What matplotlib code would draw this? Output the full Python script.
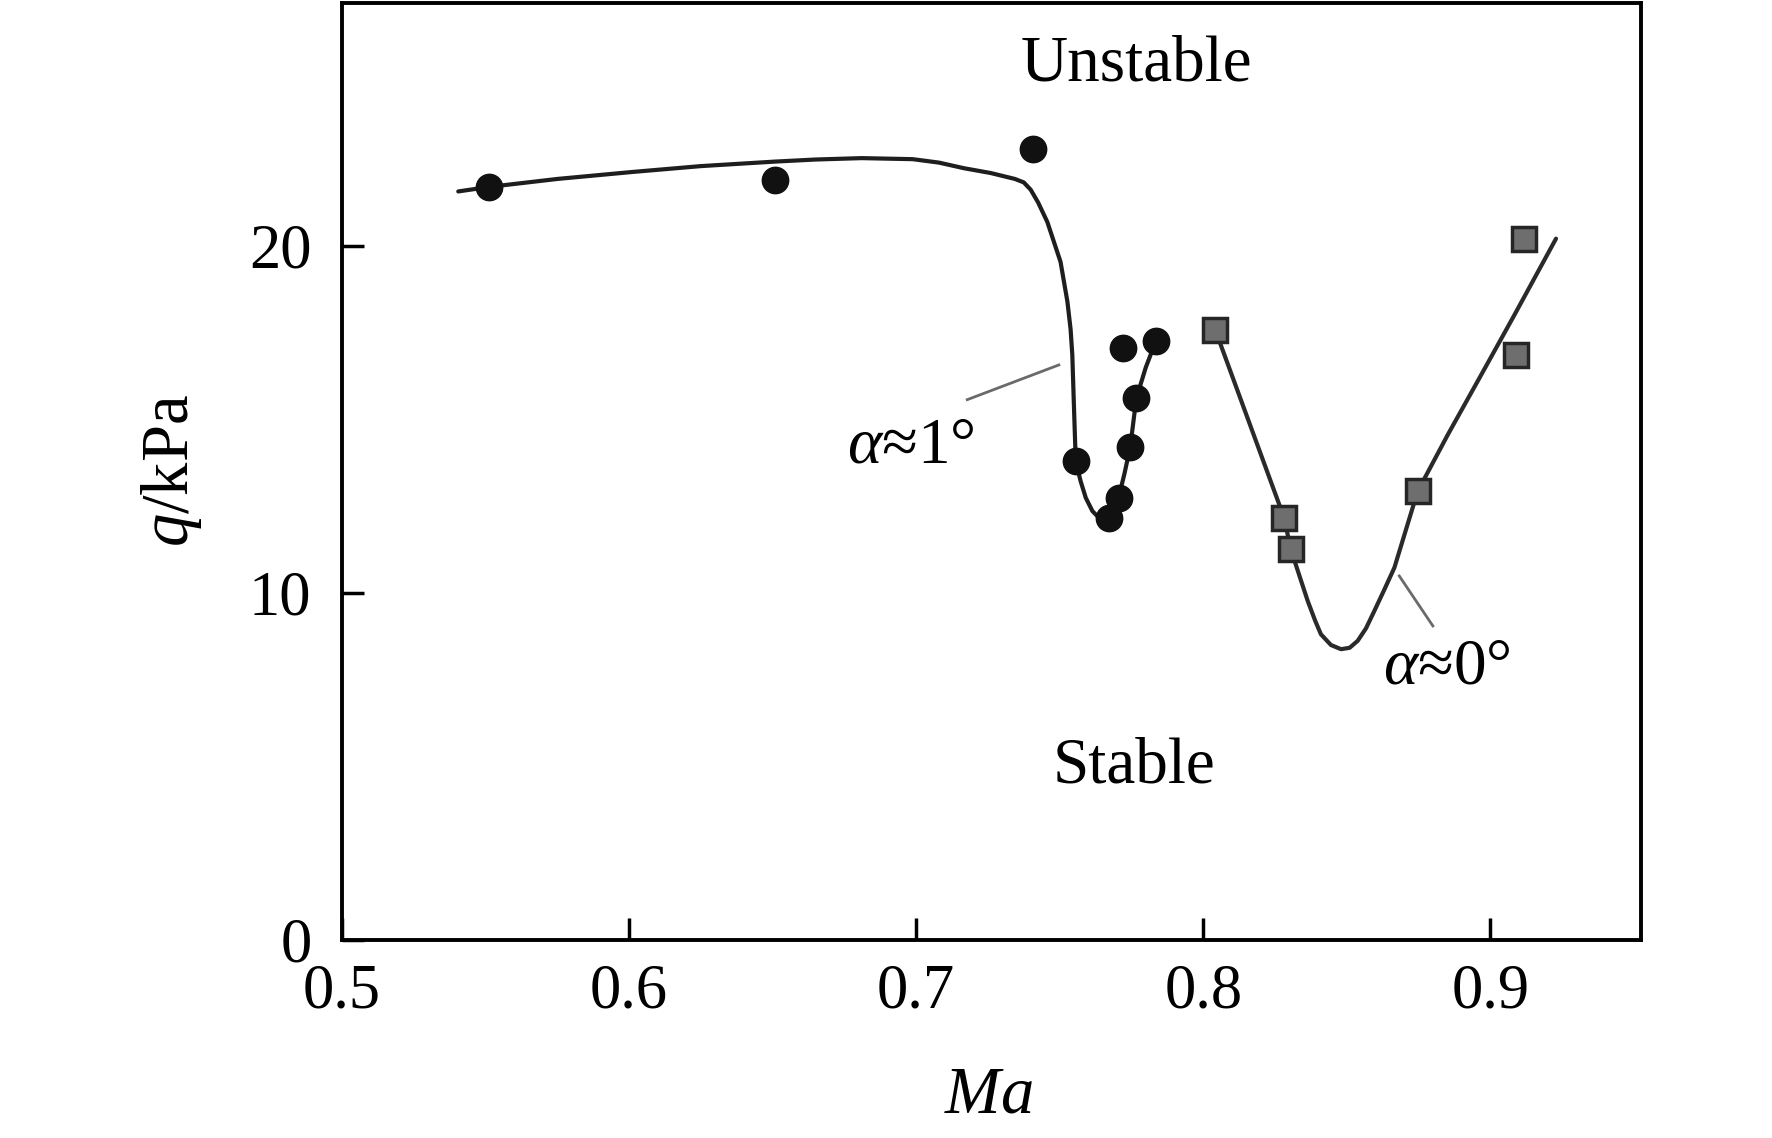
import matplotlib
matplotlib.use("Agg")
import matplotlib.pyplot as plt

plt.rcParams['font.family'] = ['Liberation Serif', 'DejaVu Serif']
plt.rcParams['mathtext.fontset'] = 'custom'
plt.rcParams['mathtext.rm'] = 'Liberation Serif'
plt.rcParams['mathtext.it'] = 'Liberation Serif:italic'

# measured points, alpha ~ 1 deg (circles)
ma_a1 = [0.5512, 0.6508, 0.7406, 0.7556, 0.7672, 0.7705, 0.7719, 0.7746, 0.7767, 0.7835]
q_a1 = [21.70, 21.89, 22.80, 13.79, 12.16, 12.74, 17.05, 14.22, 15.61, 17.26]

# measured points, alpha ~ 0 deg (squares)
ma_a0 = [0.8042, 0.8282, 0.8305, 0.8747, 0.9090, 0.9119]
q_a0 = [17.58, 12.16, 11.26, 12.93, 16.86, 20.21]

# boundary curve alpha ~ 1 deg
curve1_ma = [0.5405, 0.5512, 0.5750, 0.6010, 0.6250, 0.6508, 0.6650, 0.6810, 0.6988,
             0.7080, 0.7166, 0.7260, 0.7344, 0.7375, 0.7399, 0.7425, 0.7457, 0.7503,
             0.7527, 0.7538, 0.7544, 0.7550, 0.7556, 0.7573, 0.7591, 0.7614, 0.7643,
             0.7672, 0.7690, 0.7705, 0.7726, 0.7746, 0.7767, 0.7800, 0.7835]
curve1_q = [21.57, 21.70, 21.93, 22.13, 22.30, 22.43, 22.49, 22.53, 22.50,
            22.40, 22.24, 22.10, 21.93, 21.83, 21.62, 21.25, 20.69, 19.54,
            18.39, 17.60, 16.86, 15.30, 13.79, 13.22, 12.74, 12.36, 12.11,
            12.02, 12.36, 12.74, 13.45, 14.22, 15.61, 16.50, 17.26]

# boundary curve alpha ~ 0 deg
curve0_ma = [0.8042, 0.8282, 0.8305, 0.8335, 0.8364, 0.8390, 0.8410, 0.8445, 0.8480,
             0.8510, 0.8538, 0.8567, 0.8596, 0.8630, 0.8666, 0.8747, 0.8852, 0.8968,
             0.9084, 0.9229]
curve0_q = [17.58, 12.16, 11.26, 10.50, 9.77, 9.20, 8.81, 8.50, 8.38,
            8.42, 8.62, 8.98, 9.48, 10.08, 10.73, 12.93, 14.56, 16.28,
            18.01, 20.21]

xticks = [0.5, 0.6, 0.7, 0.8, 0.9]
xticklabels = ['0.5', '0.6', '0.7', '0.8', '0.9']
yticks = [0, 10, 20]
yticklabels = ['0', '10', '20']

W, H = 1772, 1138
fig = plt.figure(figsize=(W / 100, H / 100), dpi=100)
L, R, B, T = 342, 1641, 940, 3
ax = fig.add_axes([L / W, 1 - B / H, (R - L) / W, (B - T) / H])

ax.plot(curve1_ma, curve1_q, color='#1e1e1e', lw=3.0, solid_capstyle='round',
        solid_joinstyle='round', zorder=2)
ax.plot(curve0_ma, curve0_q, color='#2a2a2a', lw=3.0, solid_capstyle='round',
        solid_joinstyle='round', zorder=2)
ax.plot(ma_a1, q_a1, linestyle='none', marker='o', ms=19, mfc='#111111', mec='#111111', zorder=3)
ax.plot(ma_a0, q_a0, linestyle='none', marker='s', ms=17, mfc='#6e6e6e', mec='#262626', mew=2.5, zorder=3)

# leader lines
ax.plot([0.7178, 0.7497], [15.57, 16.57], color='#6a6a6a', lw=2.0, zorder=2)
ax.plot([0.8683, 0.8800], [10.49, 9.05], color='#6a6a6a', lw=2.0, zorder=2)

ax.text(0.7768, 25.23, 'Unstable', fontsize=47, ha='center', va='center')
ax.text(0.7758, 5.0, 'Stable', fontsize=47, ha='center', va='center')
ax.text(0.698, 14.2, r'$\mathit{\alpha}$≈1°', fontsize=47, ha='center', va='center')
ax.text(0.885, 7.84, r'$\mathit{\alpha}$≈0°', fontsize=47, ha='center', va='center')

ax.set_xlim(0.5, 0.9525)
ax.set_ylim(0, 27)
ax.set_xticks(xticks)
ax.set_xticklabels(xticklabels)
ax.set_yticks(yticks)
ax.set_yticklabels(yticklabels)
ax.tick_params(direction='in', length=16, width=2.5, labelsize=45)
ax.tick_params(axis='x', pad=17)
ax.tick_params(axis='y', pad=22)
for s in ax.spines.values():
    s.set_linewidth(2.8)

ax.set_xlabel(r'$Ma$', fontsize=48)
ax.xaxis.set_label_coords(0.498, -0.1665)
ax.xaxis.label.set_va('center')
ax.set_ylabel(r'$q$/kPa', fontsize=48)
ax.yaxis.set_label_coords(-0.131, 0.5005)
ax.yaxis.label.set_va('center')

fig.savefig('out.png', dpi=100)
